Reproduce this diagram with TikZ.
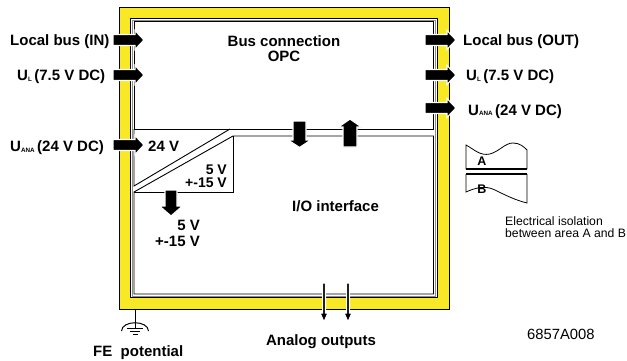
\documentclass[tikz,border=0pt]{standalone}
\usepackage{fontspec}
\setmainfont{Liberation Sans}
\definecolor{fyellow}{RGB}{248,232,38}
\newcommand{\lowsub}[1]{\raisebox{-0.6pt}{\fontsize{6.3}{7}\selectfont #1}}
\begin{document}
\begin{tikzpicture}[x=1pt,y=-1pt,
  lbl/.style={font=\fontsize{15}{17}\selectfont\bfseries, inner sep=0pt, anchor=base west},
  lblc/.style={lbl, anchor=base},
  lble/.style={lbl, anchor=base east},
  small/.style={lbl, font=\fontsize{14}{16}\selectfont\bfseries, anchor=base east},
  note/.style={font=\fontsize{12.2}{14}\selectfont, inner sep=0pt, anchor=base west},
  frameline/.style={line width=0.9pt},
  pics/barrow/.style n args={4}{code={\filldraw[fill=black,draw=white,line width=1.2pt] (0,-#2) -- (#1,-#2) -- (#1,-#4) -- ({#1+#3},0) -- (#1,#4) -- (#1,#2) -- (0,#2) -- cycle;}}
]
\useasboundingbox (0,0) rectangle (627,361);
% yellow frame
\filldraw[fill=fyellow, draw=black, frameline] (119.5,7.5) rectangle (449,309.5);
\filldraw[fill=white, draw=black, frameline] (130.5,18.5) rectangle (437.5,297.5);
\draw[black!45, line width=0.5pt] (132.3,20.1) rectangle (435.6,295.8);
% inner areas
\draw[frameline] (134,21.5) rectangle (433.5,129);
\draw[frameline] (134,129) -- (134,186) -- (230,129);
\draw[frameline] (134,192) -- (233,136) -- (433.5,136) -- (433.5,294) -- (134,294) -- cycle;
\draw[frameline] (134,192) -- (233,192) -- (233,136);
% block arrows
\pic at (113,40) {barrow={22}{5.5}{9}{9.5}};
\pic at (113,75) {barrow={22}{5.5}{9}{9.5}};
\pic at (113,145) {barrow={22}{5.5}{9}{9.5}};
\pic at (425,40) {barrow={22}{5.5}{9}{9.5}};
\pic at (425,75) {barrow={22}{5.5}{9}{9.5}};
\pic at (425,108) {barrow={22}{5.5}{9}{9.5}};
\pic[rotate=-90] at (299.5,121) {barrow={19}{6.5}{7.5}{11.5}};
\pic[rotate=90] at (350,147) {barrow={20}{7}{8}{11.5}};
\pic[rotate=-90] at (171,190) {barrow={16}{6}{10}{11.5}};
\pic[rotate=-90] at (324,283) {barrow={30}{1.4}{9}{4}};
\pic[rotate=-90] at (348,283) {barrow={30}{1.4}{9}{4}};
% labels
\node[lbl] (lbin) at (10,45.5) {Local bus (IN)};
\node[lbl] (ulin) at (17,80.5) {U\lowsub{L}\,(7.5 V DC)};
\node[lbl] (uain) at (10,151.5) {U\lowsub{ANA}\,(24 V DC)};
\node[lbl] (v24) at (148,151) {24 V};
\node[lbl] (lbout) at (463,45.5) {Local bus (OUT)};
\node[lbl] (ulout) at (466,80.5) {U\lowsub{L}\,(7.5 V DC)};
\node[lbl] (uaout) at (468,115) {U\lowsub{ANA}\,(24 V DC)};
\node[lblc] (bus) at (284,47) {Bus connection};
\node[lblc] (opc) at (284,62) {OPC};
\node[small] (t5a) at (227,174) {5 V};
\node[small] (t15a) at (227,187) {+-15 V};
\node[lble] (t5b) at (200,230) {5 V};
\node[lble] (t15b) at (200,246.5) {+-15 V};
\node[lbl] (io) at (292,211) {I/O interface};
\node[lblc] (ao) at (321,345) {Analog outputs};
\node[lbl] (fe) at (93,356.5) {FE\ \ potential};
\node[note, font=\fontsize{14.8}{16}\selectfont] (code) at (527,339.3) {6857A008};
\node[note] (iso1) at (505,225) {Electrical isolation};
\node[note] (iso2) at (505,237) {between area A and B};
% ground symbol
\draw[line width=0.9pt] (135,309.5) -- (135,328.5);
\draw[line width=1pt] (121.5,331) .. controls (122,320) and (148,320) .. (148.5,331);
\draw[line width=1pt] (127,328.5) -- (143,328.5);
\draw[line width=1pt] (130,331.5) -- (140,331.5);
\draw[line width=1pt] (132.5,334.5) -- (137.5,334.5);
% isolation symbol
\draw[line width=0.8pt] (527,169) -- (527,150) .. controls (524,147) and (520,143) .. (513,143) .. controls (505,143) and (500,151) .. (490,154) .. controls (480,156) and (475,150) .. (466,145) -- (466,169);
\draw[line width=2.5pt] (466,169) -- (527,169);
\draw[line width=2.5pt] (466,174) -- (527,174);
\draw[line width=0.8pt] (466,174) -- (466,192) .. controls (475,188) and (485,185) .. (495,190) .. controls (505,195) and (515,200) .. (527,203) -- (527,174);
\node[lblc, font=\fontsize{12.5}{14}\selectfont\bfseries] (la) at (482,165) {A};
\node[lblc, font=\fontsize{12.5}{14}\selectfont\bfseries] (lb) at (482,193) {B};
\end{tikzpicture}
\end{document}
